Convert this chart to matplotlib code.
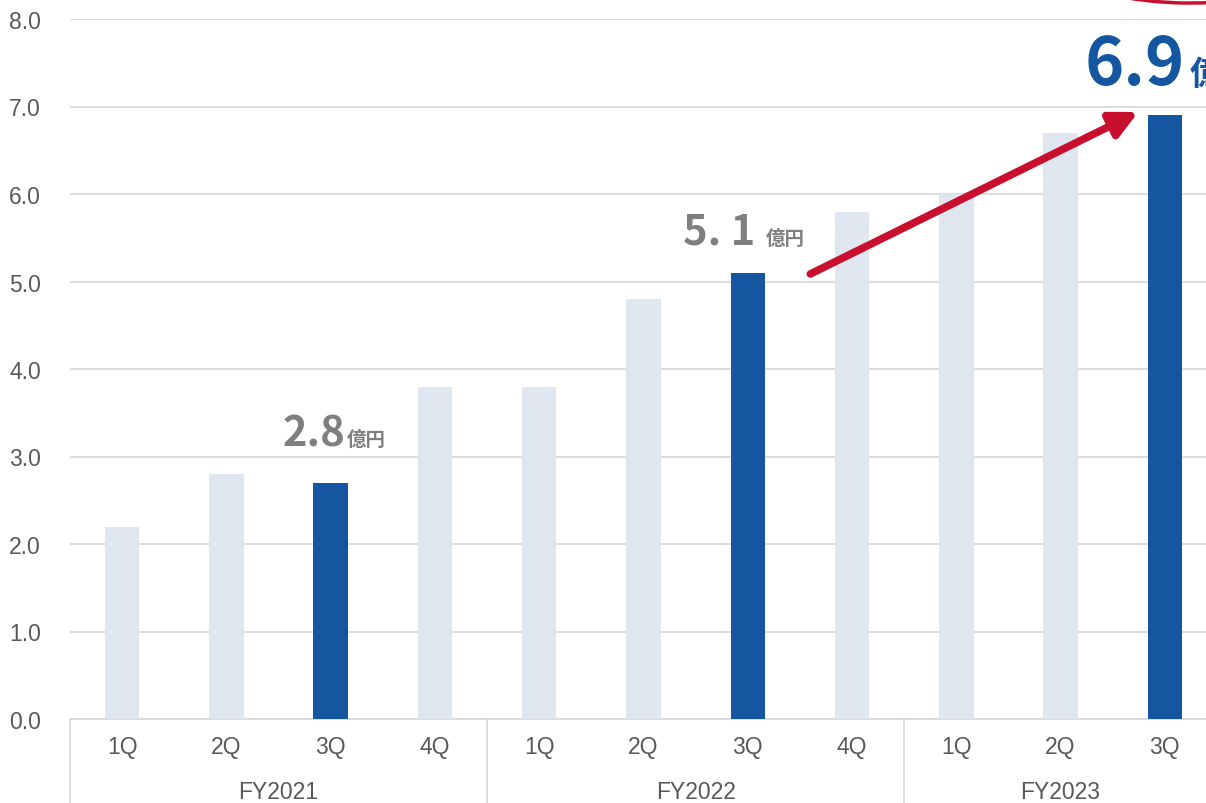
import matplotlib.pyplot as plt
from matplotlib.patches import Ellipse

plt.rcParams['font.family'] = ['Liberation Sans', 'DejaVu Sans']

# データ
quarters = ["1Q", "2Q", "3Q", "4Q", "1Q", "2Q", "3Q", "4Q", "1Q", "2Q", "3Q"]
years = ["FY2021", "FY2022", "FY2023"]
year_sizes = [4, 4, 3]
values = [2.2, 2.8, 2.7, 3.8, 3.8, 4.8, 5.1, 5.8, 6.0, 6.7, 6.9]
highlight = [2, 6, 10]
yticks = [0.0, 1.0, 2.0, 3.0, 4.0, 5.0, 6.0, 7.0, 8.0]

light = "#dfe6f0"
dark = "#1457a0"
grey_txt = "#595959"
red = "#c8102e"

fig = plt.figure(figsize=(12.06, 8.04), dpi=100)
ax = fig.add_axes([70 / 1206, 84 / 804, 1147 / 1206, 700 / 804])

x = list(range(len(values)))
colors = [dark if i in highlight else light for i in x]
ax.bar(x, values, width=0.33, color=colors, zorder=3)

ax.set_xlim(-0.5, len(values) - 0.5)
ax.set_ylim(0, 8)
ax.set_yticks(yticks)
ax.set_yticklabels([f"{v:.1f}" for v in yticks], fontsize=16.5, color=grey_txt)
ax.tick_params(axis="y", length=0, pad=21)
ax.set_xticks([])
ax.grid(axis="y", color="#d9d9d9", lw=1.3, zorder=0)
for s in ["top", "right", "left"]:
    ax.spines[s].set_visible(False)
ax.spines["bottom"].set_color("#d9d9d9")
ax.spines["bottom"].set_linewidth(1.3)

# 2段の軸ラベル
for i, q in enumerate(quarters):
    ax.text(i, -0.32, q, ha="center", va="center", fontsize=16.5, color=grey_txt, clip_on=False)
start = 0
for name, n in zip(years, year_sizes):
    ax.text(start + n / 2 - 0.5, -0.83, name, ha="center", va="center", fontsize=16.5,
            color=grey_txt, clip_on=False)
    ax.plot([start - 0.5, start - 0.5], [0, -0.96], color="#d9d9d9", lw=1.3, clip_on=False)
    start += n
ax.plot([start - 0.5, start - 0.5], [0, -0.96], color="#d9d9d9", lw=1.3, clip_on=False)

# 注記
jp = ['Noto Sans CJK JP', 'DejaVu Sans']
ax.text(2.138, 3.13, "2.8", ha="right", va="baseline", fontsize=30, fontweight="bold",
        color="#7f7f7f", family=jp)
ax.text(2.15, 3.13, "億円", ha="left", va="baseline", fontsize=14, fontweight="bold",
        color="#7f7f7f", family=jp)
ax.text(6.07, 5.43, "5. 1", ha="right", va="baseline", fontsize=30, fontweight="bold",
        color="#7f7f7f", family=jp)
ax.text(6.176, 5.43, "億円", ha="left", va="baseline", fontsize=14, fontweight="bold",
        color="#7f7f7f", family=jp)
ax.text(10.195, 7.257, "6.9", ha="right", va="baseline", fontsize=48, fontweight="bold",
        color=dark, family=jp, clip_on=False)
ax.text(10.24, 7.257, "億円", ha="left", va="baseline", fontsize=24, fontweight="bold",
        color=dark, family=jp, clip_on=False)

ax.annotate("", xy=(9.745, 6.937), xytext=(6.60, 5.086),
            arrowprops=dict(arrowstyle="-|>,head_length=1.6,head_width=0.8",
                            color=red, lw=5.5, shrinkA=0, shrinkB=0), zorder=5)

ax.add_patch(Ellipse((10.24, 8.571), 2.245, 0.777, fill=False, edgecolor=red,
                     lw=2.5, clip_on=False))

fig.savefig("out.png", dpi=100)
